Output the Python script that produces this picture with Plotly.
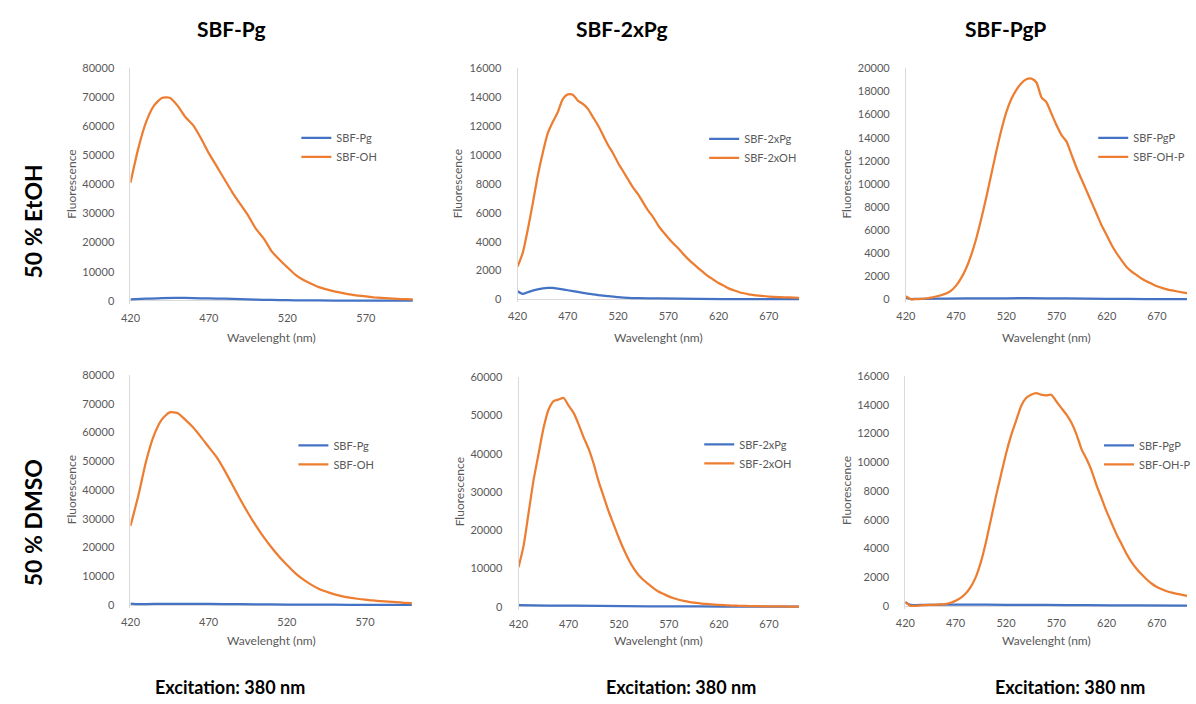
import plotly.graph_objects as go

# ---------------- data ----------------
# 50 % EtOH, SBF-Pg panel
wl_etoh_pg = [420, 425, 430, 435, 440, 445, 450, 455, 460, 465, 470, 475, 480, 485, 490,
              495, 500, 505, 510, 515, 520, 525, 530, 535, 540, 545, 550, 555, 560, 565,
              570, 575, 580, 585, 590, 595, 600]
etoh_sbf_oh = [40600, 52400, 61500, 67100, 69700, 69800, 67100, 63200, 60300, 55800, 50700,
               46200, 41700, 37200, 33200, 29300, 24700, 21400, 17000, 14100, 11500, 9000,
               7200, 5900, 4700, 3900, 3200, 2700, 2200, 1800, 1500, 1200, 1000, 800, 650,
               550, 450]
wl_etoh_pg_b = [420, 430, 440, 450, 460, 470, 480, 490, 500, 510, 520, 530, 540, 560, 580, 600]
etoh_sbf_pg = [450, 700, 950, 1000, 900, 800, 700, 550, 400, 300, 200, 150, 100, 60, 40, 30]

# 50 % EtOH, SBF-2xPg panel
wl_etoh_2x = [420, 425, 430, 435, 440, 445, 450, 455, 460, 465, 470, 475, 480, 485, 490,
              495, 500, 505, 510, 515, 520, 525, 530, 535, 540, 545, 550, 555, 560, 565,
              570, 575, 580, 585, 590, 595, 600, 605, 610, 615, 620, 625, 630, 635, 640,
              645, 650, 660, 670, 680, 690, 700]
etoh_sbf_2xoh = [2280, 3190, 4780, 6600, 8540, 10130, 11500, 12290, 12970, 13880, 14200,
                 14180, 13770, 13540, 13200, 12630, 12060, 11380, 10700, 10130, 9450, 8880,
                 8310, 7740, 7280, 6710, 6150, 5690, 5120, 4670, 4260, 3870, 3530, 3140,
                 2780, 2460, 2160, 1870, 1590, 1370, 1140, 960, 770, 640, 520, 430, 360,
                 270, 200, 160, 140, 110]
wl_etoh_2x_b = [420, 425, 430, 435, 440, 450, 455, 460, 465, 470, 480, 490, 500, 510, 520,
                530, 540, 560, 600, 650, 700]
etoh_sbf_2xpg = [570, 390, 500, 610, 700, 800, 800, 750, 700, 640, 520, 410, 300, 230, 160,
                 110, 90, 70, 40, 20, 20]

# 50 % EtOH, SBF-PgP panel
wl_etoh_pgp = [420, 425, 430, 435, 440, 445, 450, 455, 460, 465, 470, 475, 480, 485, 490,
               495, 500, 505, 510, 515, 520, 525, 530, 535, 540, 545, 550, 555, 560, 565,
               570, 575, 580, 585, 590, 595, 600, 605, 610, 615, 620, 625, 630, 635, 640,
               645, 650, 655, 660, 665, 670, 675, 680, 685, 690, 695, 700]
etoh_sbf_oh_p = [280, 20, 30, 50, 85, 160, 260, 370, 510, 770, 1200, 1850, 2700, 3840, 5260,
                 6970, 8820, 10810, 12800, 14650, 16220, 17350, 18150, 18720, 19060, 19120,
                 18780, 17500, 17070, 16070, 15080, 14230, 13660, 12520, 11380, 10380, 9390,
                 8390, 7400, 6400, 5550, 4690, 3980, 3360, 2790, 2400, 2100, 1800, 1550,
                 1350, 1150, 1000, 880, 780, 700, 620, 560]
wl_etoh_pgp_b = [420, 425, 430, 440, 460, 500, 540, 580, 620, 660, 700]
etoh_sbf_pgp = [150, 40, 50, 60, 80, 100, 110, 90, 60, 40, 30]

# 50 % DMSO, SBF-Pg panel
wl_dmso_pg = wl_etoh_pg
dmso_sbf_oh = [27500, 38000, 50000, 59000, 64500, 67000, 66800, 64500, 61800, 58500, 55000,
               51500, 47000, 42000, 37000, 32200, 27800, 23800, 20200, 16900, 14000, 11300,
               9100, 7300, 5800, 4700, 3800, 3100, 2600, 2200, 1900, 1600, 1400, 1200, 1000,
               800, 650]
wl_dmso_pg_b = [420, 425, 430, 440, 450, 460, 480, 500, 520, 540, 560, 580, 600]
dmso_sbf_pg = [500, 300, 350, 400, 450, 450, 350, 280, 200, 150, 100, 70, 50]

# 50 % DMSO, SBF-2xPg panel
wl_dmso_2x = wl_etoh_2x
dmso_sbf_2xoh = [10300, 15900, 24500, 33100, 40000, 46800, 51600, 53800, 54200, 54600, 52600,
                 50700, 47700, 44300, 41300, 37400, 32700, 28800, 24900, 21500, 18100, 15000,
                 12300, 10000, 8200, 6900, 5800, 4800, 3900, 3300, 2700, 2200, 1800, 1500,
                 1250, 1050, 900, 750, 650, 550, 450, 380, 320, 270, 230, 190, 160, 120, 90,
                 60, 40, 30]
wl_dmso_2x_b = [420, 450, 500, 550, 600, 650, 700]
dmso_sbf_2xpg = [400, 300, 200, 100, 50, 20, 10]

# 50 % DMSO, SBF-PgP panel
wl_dmso_pgp = wl_etoh_pgp
dmso_sbf_oh_p = [300, 20, 20, 50, 70, 80, 90, 110, 140, 230, 370, 570, 870, 1330, 2010, 3040,
                 4410, 6010, 7610, 9100, 10580, 11840, 12870, 13900, 14470, 14700, 14810,
                 14700, 14650, 14700, 14240, 13780, 13330, 12760, 11960, 10930, 10240, 9440,
                 8410, 7500, 6580, 5780, 4980, 4300, 3610, 3040, 2580, 2190, 1850, 1550, 1330,
                 1170, 1030, 930, 850, 780, 710]
wl_dmso_pgp_b = [420, 425, 440, 480, 520, 560, 600, 650, 700]
dmso_sbf_pgp = [250, 80, 90, 100, 90, 80, 60, 40, 30]

col_titles = ["SBF-Pg", "SBF-2xPg", "SBF-PgP"]
row_titles = ["50 % EtOH", "50 % DMSO"]
excitation = "Excitation: 380 nm"
x_title = "Wavelenght (nm)"
y_title = "Fluorescence"

BLUE = "#4472C4"
ORANGE = "#ED7D31"
GREY_TXT = "#595959"
FONT = "Lato"
W, H = 1196, 704

# panel geometry in pixels: x-left, x-right, y-top (max), y-bottom (zero)
panels = [
    dict(px=(122, 408), py=(62, 298), xr=(420, 600), ymax=80000, dy=10000,
         wl_o=wl_etoh_pg, o=etoh_sbf_oh, wl_b=wl_etoh_pg_b, b=etoh_sbf_pg,
         names=("SBF-Pg", "SBF-OH"), leg=(290, 118)),
    dict(px=(514, 799), py=(62.3, 296.7), xr=(420, 700), ymax=16000, dy=2000,
         wl_o=wl_etoh_2x, o=etoh_sbf_2xoh, wl_b=wl_etoh_2x_b, b=etoh_sbf_2xpg,
         names=("SBF-2xPg", "SBF-2xOH"), leg=(703, 119)),
    dict(px=(907.3, 1192), py=(62.3, 296.7), xr=(420, 700), ymax=20000, dy=2000,
         wl_o=wl_etoh_pgp, o=etoh_sbf_oh_p, wl_b=wl_etoh_pgp_b, b=etoh_sbf_pgp,
         names=("SBF-PgP", "SBF-OH-P"), leg=(1097, 118)),
    dict(px=(122, 407), py=(373.3, 606.7), xr=(420, 600), ymax=80000, dy=10000,
         wl_o=wl_dmso_pg, o=dmso_sbf_oh, wl_b=wl_dmso_pg_b, b=dmso_sbf_pg,
         names=("SBF-Pg", "SBF-OH"), leg=(287, 430)),
    dict(px=(515, 799), py=(375.7, 608.3), xr=(420, 700), ymax=60000, dy=10000,
         wl_o=wl_dmso_2x, o=dmso_sbf_2xoh, wl_b=wl_dmso_2x_b, b=dmso_sbf_2xpg,
         names=("SBF-2xPg", "SBF-2xOH"), leg=(698, 429)),
    dict(px=(906.7, 1192), py=(374.3, 607.7), xr=(420, 700), ymax=16000, dy=2000,
         wl_o=wl_dmso_pgp, o=dmso_sbf_oh_p, wl_b=wl_dmso_pgp_b, b=dmso_sbf_pgp,
         names=("SBF-PgP", "SBF-OH-P"), leg=(1103, 430)),
]

fig = go.Figure()
layout = dict(
    width=W, height=H, margin=dict(l=0, r=0, t=0, b=0),
    paper_bgcolor="white", plot_bgcolor="white",
    font=dict(family=FONT, color=GREY_TXT, size=11),
    showlegend=True,
)

PAD = 3  # pixels below zero so the baseline trace is not clipped
annotations = []

for i, p in enumerate(panels, start=1):
    sx = "" if i == 1 else str(i)
    leg = "legend" if i == 1 else f"legend{i}"
    x0, x1 = p["px"]
    yt, yb = p["py"]
    ymin = -p["ymax"] * PAD / (yb - yt)

    fig.add_trace(go.Scatter(
        x=p["wl_b"], y=p["b"], name=p["names"][0], mode="lines",
        line=dict(color=BLUE, width=2.25, shape="spline", smoothing=0.6),
        xaxis=f"x{sx}", yaxis=f"y{sx}", legend=leg, legendgroup=f"b{i}",
    ))
    fig.add_trace(go.Scatter(
        x=p["wl_o"], y=p["o"], name=p["names"][1], mode="lines",
        line=dict(color=ORANGE, width=2.25, shape="spline", smoothing=0.6),
        xaxis=f"x{sx}", yaxis=f"y{sx}", legend=leg, legendgroup=f"o{i}",
    ))

    layout[f"xaxis{sx}"] = dict(
        domain=[x0 / W, x1 / W], range=list(p["xr"]), anchor=f"y{sx}",
        tick0=420, dtick=50, showgrid=False, zeroline=False, showline=False,
        ticks="", ticklabelstandoff=6,
        tickfont=dict(size=11, color=GREY_TXT, family=FONT),
    )
    layout[f"yaxis{sx}"] = dict(
        domain=[1 - (yb + PAD) / H, 1 - yt / H], range=[ymin, p["ymax"]],
        anchor=f"x{sx}", tick0=0, dtick=p["dy"], tickformat="d",
        showgrid=False, zeroline=True, zerolinecolor="#D9D9D9", zerolinewidth=1,
        showline=True, linecolor="#D9D9D9", linewidth=1,
        ticks="", ticklabelstandoff=13,
        tickfont=dict(size=11, color=GREY_TXT, family=FONT),
    )
    lx, ly = p["leg"]
    layout[leg] = dict(
        x=lx / W, y=1 - ly / H, xanchor="left", yanchor="top",
        bgcolor="rgba(0,0,0,0)", borderwidth=0, tracegroupgap=7,
        font=dict(size=11, color=GREY_TXT, family=FONT), traceorder="normal",
    )

    # axis titles
    annotations.append(dict(
        text=x_title, x=(x0 + x1) / 2 / W, y=1 - (335 if i <= 3 else 643) / H,
        xref="paper", yref="paper", showarrow=False, xanchor="center", yanchor="middle",
        font=dict(size=12, color=GREY_TXT, family=FONT),
    ))
    annotations.append(dict(
        text=y_title, x=(x0 - 60) / W, y=1 - (yt + yb) / 2 / H,
        xref="paper", yref="paper", showarrow=False, textangle=-90,
        xanchor="center", yanchor="middle",
        font=dict(size=12, color=GREY_TXT, family=FONT),
    ))

# column headings
for txt, cx in zip(col_titles, [224, 620, 1008]):
    annotations.append(dict(
        text=f"<b>{txt}</b>", x=cx / W, y=1 - 22 / H, xref="paper", yref="paper",
        showarrow=False, xanchor="center", yanchor="middle",
        font=dict(size=21, color="black", family=FONT),
    ))

# row headings
for txt, cy in zip(row_titles, [218, 523]):
    annotations.append(dict(
        text=f"<b>{txt}</b>", x=23 / W, y=1 - cy / H, xref="paper", yref="paper",
        showarrow=False, textangle=-90, xanchor="center", yanchor="middle",
        font=dict(size=23, color="black", family=FONT),
    ))

# excitation notes
for cx in [223, 680, 1073]:
    annotations.append(dict(
        text=f"<b>{excitation}</b>", x=cx / W, y=1 - 690 / H, xref="paper", yref="paper",
        showarrow=False, xanchor="center", yanchor="middle",
        font=dict(size=18, color="black", family=FONT),
    ))

layout["annotations"] = annotations
fig.update_layout(**layout)
fig.write_html("out.html")
